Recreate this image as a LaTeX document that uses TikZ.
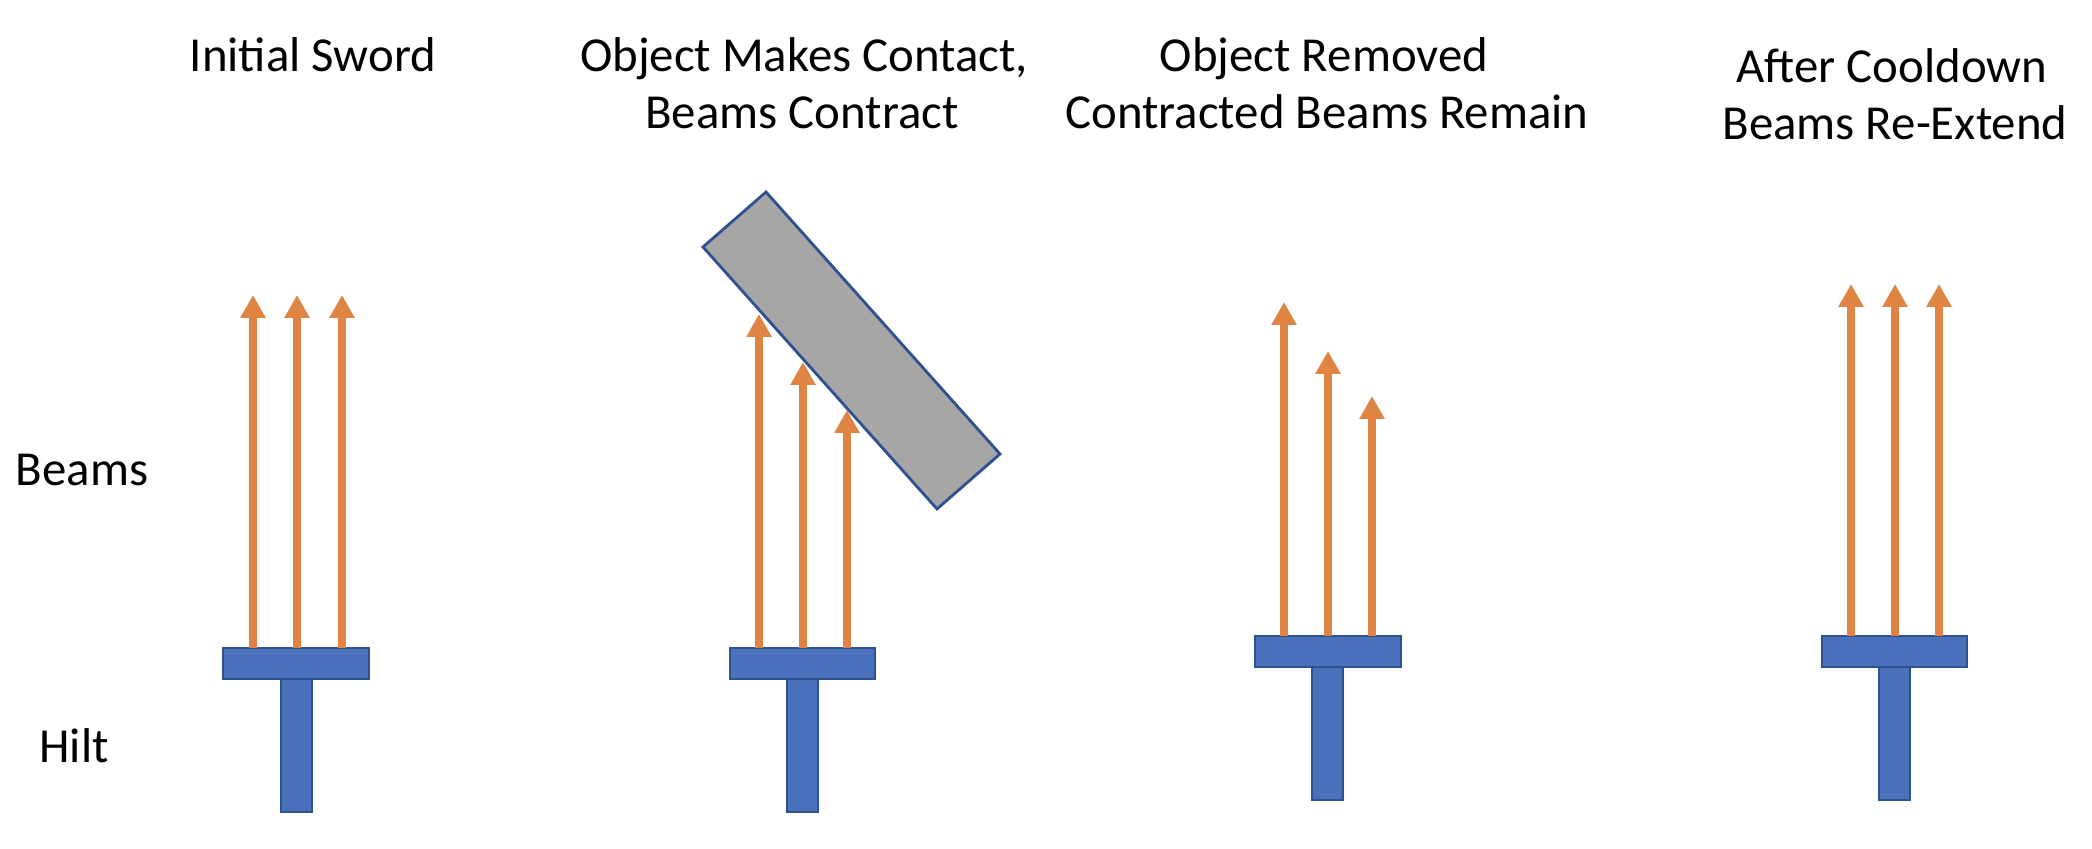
\documentclass[tikz,border=0pt]{standalone}
\usepackage{fontspec}
\setmainfont{Carlito}
\usetikzlibrary{arrows.meta}
\definecolor{beamorange}{HTML}{E08444}
\definecolor{hiltblue}{HTML}{4A72BC}
\definecolor{hiltedge}{HTML}{2F528F}
\definecolor{objgray}{HTML}{A6A6A6}

\begin{document}
\begin{tikzpicture}[
  beam/.style = {line width = 0.08cm, color = beamorange, -{Triangle[length = 0.23cm, width = 0.24cm]}},
  hilt/.style = {fill = hiltblue, draw = hiltedge, line width = 0.8pt},
  headtext/.style = {anchor = base, inner sep = 0, font = \fontsize{13.9}{16}\selectfont}]
\useasboundingbox (0, 0) rectangle (20.92, 8.48);
% side labels
\node (beamslabel) [headtext] at (0.82, 3.63) {Beams};
\node (hiltlabel) [headtext] at (0.74, 0.86) {Hilt};
% initial sword
\node (initial) [headtext] at (3.13, 7.76) {Initial Sword};
\draw[hilt] (2.81, 0.36) rectangle (3.12, 1.69);
\draw[hilt] (2.23, 1.69) rectangle (3.69, 2.00);
\draw[beam] (2.53, 2.00) to (2.53, 5.53);
\draw[beam] (2.97, 2.00) to (2.97, 5.53);
\draw[beam] (3.42, 2.00) to (3.42, 5.53);
% object makes contact
\node (contactA) [headtext] at (8.04, 7.76) {Object Makes Contact,};
\node (contactB) [headtext] at (8.02, 7.19) {Beams Contract};
\draw[hilt] (7.87, 0.36) rectangle (8.18, 1.69);
\draw[hilt] (7.30, 1.69) rectangle (8.75, 2.00);
\draw[beam] (7.59, 2.00) to (7.59, 5.34);
\draw[beam] (8.03, 2.00) to (8.03, 4.86);
\draw[beam] (8.47, 2.00) to (8.47, 4.38);
\draw[fill = objgray, draw = hiltedge, line width = 0.8pt] (7.03, 6.01) -- (7.66, 6.56) -- (10.00, 3.94) -- (9.37, 3.39) -- cycle;
% object removed
\node (removedA) [headtext] at (13.24, 7.76) {Object Removed};
\node (removedB) [headtext] at (13.27, 7.19) {Contracted Beams Remain};
\draw[hilt] (13.12, 0.48) rectangle (13.43, 1.81);
\draw[hilt] (12.55, 1.81) rectangle (14.01, 2.12);
\draw[beam] (12.84, 2.12) to (12.84, 5.46);
\draw[beam] (13.28, 2.12) to (13.28, 4.97);
\draw[beam] (13.72, 2.12) to (13.72, 4.52);
% after cooldown
\node (cooldownA) [headtext] at (18.92, 7.65) {After Cooldown};
\node (cooldownB) [headtext] at (18.95, 7.08) {Beams Re-Extend};
\draw[hilt] (18.79, 0.48) rectangle (19.10, 1.81);
\draw[hilt] (18.22, 1.81) rectangle (19.67, 2.12);
\draw[beam] (18.51, 2.12) to (18.51, 5.64);
\draw[beam] (18.95, 2.12) to (18.95, 5.64);
\draw[beam] (19.39, 2.12) to (19.39, 5.64);
\end{tikzpicture}
\end{document}
